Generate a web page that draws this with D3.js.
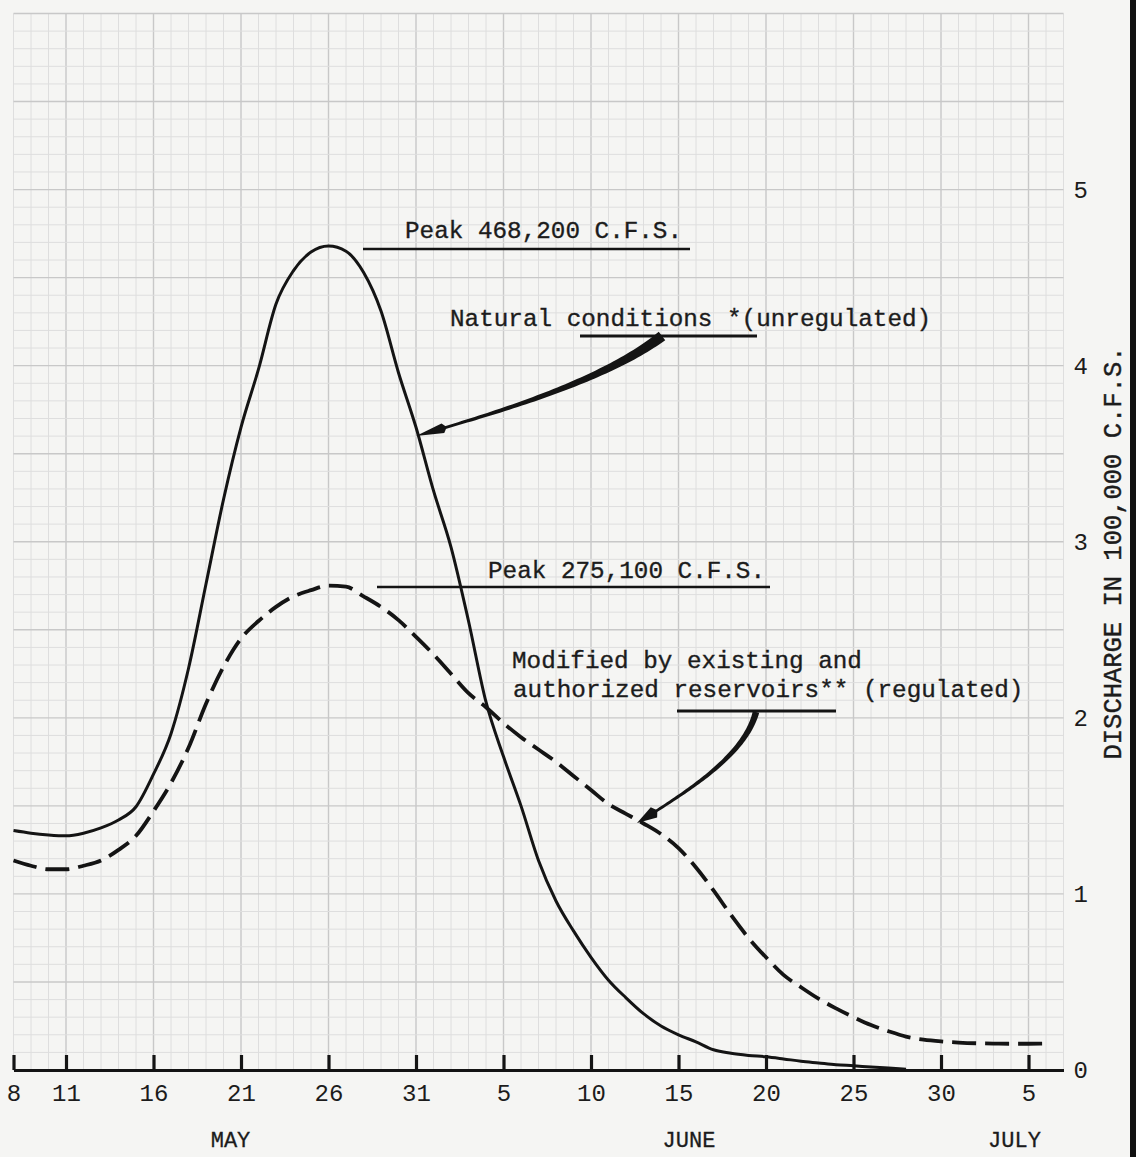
<!DOCTYPE html>
<html><head><meta charset="utf-8">
<script src="https://cdn.jsdelivr.net/npm/d3@7/dist/d3.min.js"></script>
<style>
html,body{margin:0;padding:0;background:#f5f5f3;}
svg{display:block;}
text{font-family:"Liberation Mono","Courier New",monospace;fill:#1c1c1c;}
</style></head><body>
<svg id="chart" width="1136" height="1157"></svg>
<script>
// ---- data ----
// day offsets from May 8 (index of each value = day offset)
const tickDays   = [0, 3, 8, 13, 18, 23, 28, 33, 38, 43, 48, 53, 58];
const tickLabels = ["8","11","16","21","26","31","5","10","15","20","25","30","5"];
const monthLabels = ["MAY", "JUNE", "JULY"];
const yTicks = [0, 1, 2, 3, 4, 5];
const yTitle = "DISCHARGE IN 100,000 C.F.S.";

// Natural conditions (unregulated), 100,000 cfs, daily from May 8
const unregulated = [1.36,1.345,1.335,1.33,1.345,1.375,1.42,1.495,1.68,1.91,
  2.28,2.76,3.24,3.65,3.98,4.35,4.54,4.645,4.68,4.65,
  4.53,4.31,3.96,3.65,3.29,2.97,2.55,2.09,1.78,1.50,
  1.19,0.96,0.79,0.64,0.51,0.41,0.32,0.25,0.20,0.16,
  0.115,0.095,0.083,0.075,0.063,0.05,0.04,0.03,0.024,0.017,0.011,0.004];
// Modified by existing and authorized reservoirs (regulated)
const regulated = [1.19,1.16,1.14,1.14,1.16,1.19,1.25,1.33,1.47,1.63,
  1.83,2.08,2.29,2.45,2.55,2.63,2.69,2.725,2.751,2.745,
  2.69,2.63,2.555,2.46,2.36,2.25,2.14,2.06,1.97,1.89,
  1.82,1.75,1.67,1.59,1.51,1.455,1.40,1.34,1.26,1.15,
  1.02,0.88,0.75,0.64,0.54,0.47,0.405,0.35,0.30,0.255,
  0.22,0.19,0.172,0.162,0.156,0.152,0.15,0.149,0.149,0.15];

const annotations = [
  {text:"Peak 468,200 C.F.S.", x:405, y:238},
  {text:"Natural conditions *(unregulated)", x:450, y:326},
  {text:"Peak 275,100 C.F.S.", x:488, y:578},
  {text:"Modified by existing and", x:512, y:668},
  {text:"authorized reservoirs** (regulated)", x:513, y:697}
];
const underlines = [
  {x1:363, x2:690, y:249, w:2.5},
  {x1:580, x2:757, y:336, w:3},
  {x1:377, x2:770, y:587, w:2.5},
  {x1:677, x2:836, y:711, w:3}
];

// ---- layout ----
const svg = d3.select("#chart");
const x = d3.scaleLinear().domain([0, 60]).range([13.5, 1063.5]);
const y = d3.scaleLinear().domain([0, 6]).range([1070, 13.5]);
const ink = "#141414";

svg.append("rect").attr("width",1136).attr("height",1157).attr("fill","#f5f5f3");

// grid
const grid = svg.append("g");
d3.range(0, 61).forEach(i => {
  const major = i % 5 === 3;
  grid.append("line").attr("x1", x(i)).attr("x2", x(i)).attr("y1", y(6)).attr("y2", y(0))
    .attr("stroke", major ? "#c8c8c8" : "#dedede").attr("stroke-width", major ? 1.4 : 1);
});
d3.range(0, 61).forEach(i => {
  const major = i % 5 === 0;
  grid.append("line").attr("x1", x(0)).attr("x2", x(60)).attr("y1", y(i/10)).attr("y2", y(i/10))
    .attr("stroke", major ? "#c8c8c8" : "#dedede").attr("stroke-width", major ? 1.4 : 1);
});

// x axis
const xAxis = d3.axisBottom(x).tickValues(tickDays)
  .tickFormat((d,i) => tickLabels[i]).tickSizeInner(-15).tickSizeOuter(0).tickPadding(14);
const gx = svg.append("g").attr("transform", `translate(0,${y(0)})`).call(xAxis);
gx.select(".domain").attr("stroke", ink).attr("stroke-width", 3.2);
gx.selectAll(".tick line").attr("stroke", ink).attr("stroke-width", 3.2);
gx.selectAll(".tick text").attr("font-family","Liberation Mono").attr("font-size", 24)
  .attr("fill", "#1c1c1c");

// month labels
const monthPos = [12.4, 38.6, 57.2];
svg.selectAll("text.month").data(monthLabels).join("text").attr("class","month")
  .attr("x", (d,i) => x(monthPos[i])).attr("y", 1147).attr("text-anchor","middle")
  .attr("font-size", 22).attr("stroke","#1c1c1c").attr("stroke-width",0.3).text(d => d);

// y axis (right)
const yAxis = d3.axisRight(y).tickValues(yTicks).tickFormat(d3.format("d")).tickSize(0).tickPadding(10);
const gy = svg.append("g").attr("transform", `translate(${x(60)},0)`).call(yAxis);
gy.select(".domain").remove();
gy.selectAll(".tick text").attr("font-family","Liberation Mono").attr("font-size", 24)
  .attr("fill", "#2a2a2a");

svg.append("text").attr("transform","translate(1121,553) rotate(-90)")
  .attr("text-anchor","middle").attr("font-size", 26)
  .attr("stroke","#1c1c1c").attr("stroke-width",0.4)
  .attr("textLength", 413).attr("lengthAdjust","spacingAndGlyphs").text(yTitle);

// curves
const line = d3.line().x((d,i) => x(i)).y(d => y(d)).curve(d3.curveMonotoneX);
svg.append("path").datum(unregulated).attr("d", line).attr("fill","none")
  .attr("stroke", ink).attr("stroke-width", 3).attr("stroke-linejoin","round");
svg.append("path").datum(regulated).attr("d", line).attr("fill","none")
  .attr("stroke", ink).attr("stroke-width", 3.8).attr("stroke-dasharray","24,9");

// annotations
svg.selectAll("text.ann").data(annotations).join("text").attr("class","ann")
  .attr("x", d => d.x).attr("y", d => d.y).attr("font-size", 24.3)
  .attr("stroke", "#1c1c1c").attr("stroke-width", 0.35).text(d => d.text);
svg.selectAll("line.ul").data(underlines).join("line").attr("class","ul")
  .attr("x1", d => d.x1).attr("x2", d => d.x2).attr("y1", d => d.y).attr("y2", d => d.y)
  .attr("stroke", ink).attr("stroke-width", d => d.w);

// tapered arrows
function bez(p0,c1,c2,p3,t){
  const m=1-t;
  return [m*m*m*p0[0]+3*m*m*t*c1[0]+3*m*t*t*c2[0]+t*t*t*p3[0],
          m*m*m*p0[1]+3*m*m*t*c1[1]+3*m*t*t*c2[1]+t*t*t*p3[1]];
}
function arrow(p0,c1,c2,p3,wFn,headLen,headHalf){
  const n=60, L=[], R=[];
  for(let k=0;k<=n;k++){
    const t=k/n*0.93;
    const a=bez(p0,c1,c2,p3,t), b=bez(p0,c1,c2,p3,Math.min(1,t+0.005));
    let dx=b[0]-a[0], dy=b[1]-a[1]; const l=Math.hypot(dx,dy); dx/=l; dy/=l;
    const w=wFn(t)/2;
    L.push([a[0]-dy*w, a[1]+dx*w]); R.push([a[0]+dy*w, a[1]-dx*w]);
  }
  const poly = L.concat(R.reverse());
  svg.append("path").attr("d","M"+poly.map(p=>p.join(",")).join("L")+"Z").attr("fill",ink);
  const e=bez(p0,c1,c2,p3,0.9);
  let dx=p3[0]-e[0], dy=p3[1]-e[1]; const l=Math.hypot(dx,dy); dx/=l; dy/=l;
  const bx=p3[0]-dx*headLen, by=p3[1]-dy*headLen;
  svg.append("path").attr("d",`M${p3[0]},${p3[1]}L${bx-dy*headHalf},${by+dx*headHalf}L${bx-dx*4},${by-dy*4}L${bx+dy*headHalf},${by-dx*headHalf}Z`)
    .attr("fill",ink);
}
arrow([662,336],[605,380],[500,412],[416,436], t => 2.6 + 8*Math.pow(1-t,1.6), 28, 5);
arrow([756,712],[745,755],[690,790],[637,823], t => 2.6 + 4*Math.pow(1-t,1.5), 20, 6);

// scan edge
svg.append("rect").attr("x",1130).attr("y",0).attr("width",6).attr("height",1157).attr("fill","#111");
</script>
</body></html>
